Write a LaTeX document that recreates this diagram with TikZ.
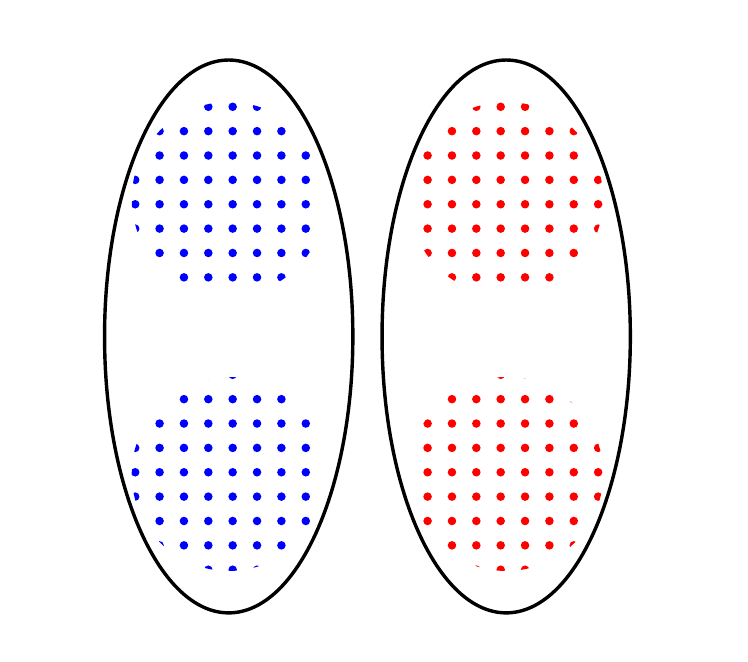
\documentclass[tikz,border=0pt]{standalone}
\usetikzlibrary{calc}
\tikzset{
  lobe/.style={
    draw,
    line width=1pt
  }
}

\begin{document}
\begin{tikzpicture}
  \useasboundingbox (-2.358,-3.356) rectangle (5.354,3.469);
  \coordinate (L) at (0,0);
  \coordinate (R) at (2.861,0);
  % dotted discs on one common grid
  \foreach \cx/\cy/\col/\ia/\ib/\ja/\jb in {0/1.418/blue/-5/5/1/10,
      0/-1.418/blue/-5/5/-10/-1,
      2.861/1.418/red/6/16/1/10,
      2.861/-1.418/red/6/16/-10/-1}{
    \begin{scope}
      \clip (\cx,\cy) circle (1);
      \foreach \i in {\ia,...,\ib}
        \foreach \j in {\ja,...,\jb}
          \fill[\col] (0.041+0.2512*\i,0.107+0.2512*\j) circle (0.044);
    \end{scope}
  }
  \draw[lobe] (L) ellipse [x radius=1.28, y radius=2.85];
  \draw[lobe] (R) ellipse [x radius=1.28, y radius=2.85];
\end{tikzpicture}
\end{document}
